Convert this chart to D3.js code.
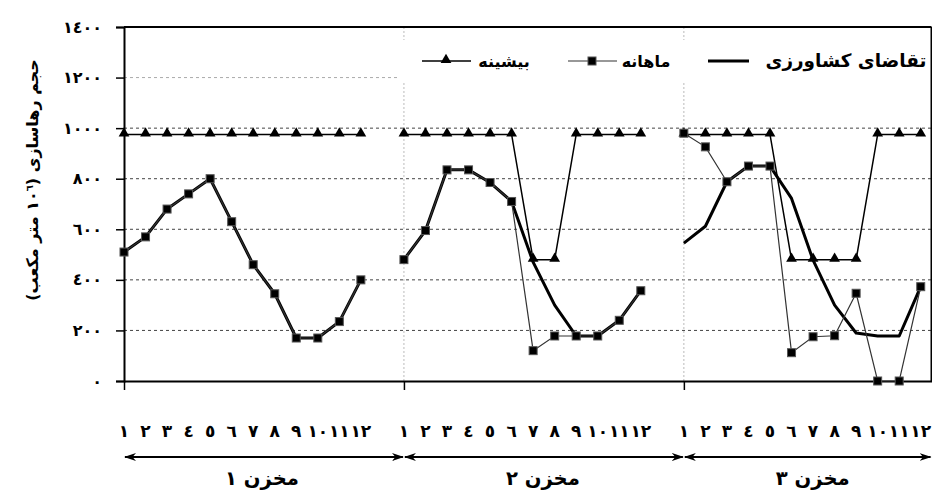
<!DOCTYPE html>
<html>
<head>
<meta charset="utf-8">
<script src="https://cdn.jsdelivr.net/npm/d3@7"></script>
<style>
  html, body { margin: 0; padding: 0; background: #fff; }
  svg { display: block; }
  text { font-family: "DejaVu Sans", sans-serif; font-weight: bold; fill: #000; }
</style>
</head>
<body>
<svg id="chart" width="932" height="490"></svg>
<script>
// ---- data ----
const reservoirs = ["مخزن ١", "مخزن ٢", "مخزن ٣"];
const monthLabels = ["١","٢","٣","٤","٥","٦","٧","٨","٩","١٠","١١","١٢"];
const yTicks = [0, 200, 400, 600, 800, 1000, 1200, 1400];
const yTickLabels = ["٠","٢٠٠","٤٠٠","٦٠٠","٨٠٠","١٠٠٠","١٢٠٠","١٤٠٠"];
const seriesNames = ["تقاضای کشاورزی", "ماهانه", "بیشینه"];

const demand1 = [510, 570, 680, 740, 800, 630, 460, 345, 170, 170, 235, 400];
const demand2 = [480, 595, 835, 835, 785, 710, 470, 300, 178, 178, 240, 357];
const demand3 = [545, 612, 788, 850, 850, 722, 478, 300, 190, 178, 178, 373];

const monthly1 = [510, 570, 680, 740, 800, 630, 460, 345, 170, 170, 235, 400];
const monthly2 = [480, 595, 835, 835, 785, 710, 120, 178, 178, 178, 240, 357];
const monthly3 = [980, 926, 788, 850, 850, 112, 175, 179, 347, 0, 0, 373];

const max1 = [975, 975, 975, 975, 975, 975, 975, 975, 975, 975, 975, 975];
const max2 = [975, 975, 975, 975, 975, 975, 480, 480, 975, 975, 975, 975];
const max3 = [975, 975, 975, 975, 975, 480, 480, 480, 480, 975, 975, 975];

const demand = [demand1, demand2, demand3];
const monthly = [monthly1, monthly2, monthly3];
const maxS = [max1, max2, max3];

// ---- layout ----
const svg = d3.select("#chart");
const pL = 124, pR = 931.5, pT = 27, pB = 381;
const slotsPerPanel = 13;

const x = d3.scaleLinear().domain([0, 37.5]).range([pL, pR]);
const y = d3.scaleLinear().domain([0, 1400]).range([pB, pT]);
const idx = (r, m) => r * slotsPerPanel + m;

// fit a text element's width to a target by adjusting font-size
function fitText(sel, target, base, maxSize) {
  sel.style("font-size", base + "px");
  const w = sel.node().getComputedTextLength();
  if (w > 0) {
    let s = base * target / w;
    s = Math.max(base * 0.8, Math.min(maxSize, s));
    sel.style("font-size", s + "px");
  }
}

// horizontal gridlines
svg.append("g").selectAll("line")
  .data(yTicks.filter(v => v > 0 && v < 1400))
  .join("line")
  .attr("x1", pL).attr("x2", pR)
  .attr("y1", d => y(d)).attr("y2", d => y(d))
  .attr("stroke", d => d === 1200 ? "#aaa" : "#444")
  .attr("stroke-width", 1)
  .attr("stroke-dasharray", "3,3");

// vertical panel gridlines
svg.append("g").selectAll("line")
  .data([1, 2])
  .join("line")
  .attr("x1", d => x(d * slotsPerPanel)).attr("x2", d => x(d * slotsPerPanel))
  .attr("y1", pT).attr("y2", pB)
  .attr("stroke", "#bbb")
  .attr("stroke-width", 1)
  .attr("stroke-dasharray", "2,2");

// legend background box (covers gridlines)
svg.append("rect")
  .attr("x", 400).attr("y", 40).attr("width", 540).attr("height", 43)
  .attr("fill", "#fff");

// axes frame
svg.append("line").attr("x1", pL).attr("x2", pR).attr("y1", pT).attr("y2", pT)
  .attr("stroke", "#000").attr("stroke-width", 2);
svg.append("line").attr("x1", pR).attr("x2", pR).attr("y1", pT).attr("y2", pB)
  .attr("stroke", "#000").attr("stroke-width", 2);

// y axis
const yAxis = d3.axisLeft(y).tickValues(yTicks)
  .tickFormat((d, i) => yTickLabels[i]).tickSize(8).tickPadding(14);
const gy = svg.append("g").attr("transform", `translate(${pL},0)`).call(yAxis);
gy.select(".domain").attr("stroke-width", 2);
gy.selectAll(".tick line").attr("stroke-width", 1.5);
gy.selectAll(".tick text")
  .style("font-size", "16px").style("font-family", "DejaVu Sans").style("font-weight", "bold")
  .style("letter-spacing", "2.5px").attr("fill", "#000");

// x axis (ticks at panel boundaries)
const xAxis = d3.axisBottom(x).tickValues([0, 13, 26]).tickFormat("").tickSize(9).tickSizeOuter(0);
const gx = svg.append("g").attr("transform", `translate(0,${pB})`).call(xAxis);
gx.select(".domain").attr("stroke-width", 2);
gx.selectAll(".tick line").attr("stroke-width", 1.5);

// month labels
const monthPos = [];
for (let r = 0; r < 3; r++) for (let m = 0; m < 12; m++) monthPos.push({ r, m });
svg.append("g").selectAll("text")
  .data(monthPos)
  .join("text")
  .attr("x", d => x(idx(d.r, d.m)))
  .attr("y", 431)
  .attr("dy", "0.35em")
  .attr("text-anchor", "middle")
  .style("font-size", "17px")
  .text(d => monthLabels[d.m]);

// arrows
const defs = svg.append("defs");
defs.append("marker").attr("id", "ah").attr("viewBox", "0 0 12 10")
  .attr("refX", 11).attr("refY", 5).attr("markerWidth", 12).attr("markerHeight", 10)
  .attr("markerUnits", "userSpaceOnUse").attr("orient", "auto-start-reverse")
  .append("path").attr("d", "M0,1 L12,5 L0,9 L3.5,5 Z").attr("fill", "#000");
const edges = [[0, 13], [13, 26], [26, 37.5]];
svg.append("g").selectAll("line")
  .data(edges)
  .join("line")
  .attr("x1", d => x(d[0]) + 1).attr("x2", d => x(d[1]) - 1)
  .attr("y1", 457).attr("y2", 457)
  .attr("stroke", "#000").attr("stroke-width", 2)
  .attr("marker-start", "url(#ah)").attr("marker-end", "url(#ah)");
const resOffsets = [-2, -1, 5];
svg.append("g").selectAll("text")
  .data(edges)
  .join("text")
  .attr("x", (d, i) => (x(d[0]) + x(d[1])) / 2 + resOffsets[i])
  .attr("y", 478).attr("dy", "0.35em")
  .attr("text-anchor", "middle")
  .text((d, i) => reservoirs[i])
  .each(function () { fitText(d3.select(this), 74, 16, 20); });

// y axis title
const yt = svg.append("text")
  .attr("transform", "translate(32,180) rotate(-90)")
  .attr("text-anchor", "middle")
  .attr("dy", "0.35em")
  .style("font-size", "16px");
yt.append("tspan").text("حجم رهاسازی (١٠");
yt.append("tspan").attr("baseline-shift", "super").style("font-size", "10px").text("٦");
yt.append("tspan").text(" متر مکعب)");

// series
const plot = svg.append("g");
const line = d3.line().x(d => x(d.i)).y(d => y(d.v));
const toPts = (arr, r) => arr.map((v, m) => ({ i: idx(r, m), v }));

demand.forEach((arr, r) => {
  plot.append("path").datum(toPts(arr, r)).attr("d", line)
    .attr("fill", "none").attr("stroke", "#000").attr("stroke-width", 3)
    .attr("stroke-linejoin", "round");
});
monthly.forEach((arr, r) => {
  plot.append("path").datum(toPts(arr, r)).attr("d", line)
    .attr("fill", "none").attr("stroke", "#333").attr("stroke-width", 1.2);
});
maxS.forEach((arr, r) => {
  plot.append("path").datum(toPts(arr, r)).attr("d", line)
    .attr("fill", "none").attr("stroke", "#000").attr("stroke-width", 1.5);
});
const tri = d3.symbol().type(d3.symbolTriangle).size(50);
maxS.forEach((arr, r) => {
  plot.append("g").selectAll("path").data(toPts(arr, r)).join("path")
    .attr("transform", d => `translate(${x(d.i)},${y(d.v) - 1})`)
    .attr("d", tri).attr("fill", "#000");
});
monthly.forEach((arr, r) => {
  plot.append("g").selectAll("rect").data(toPts(arr, r)).join("rect")
    .attr("x", d => x(d.i) - 4).attr("y", d => y(d.v) - 4)
    .attr("width", 8).attr("height", 8)
    .attr("fill", "#000").attr("stroke", "#555").attr("stroke-width", 1);
});

// legend
const lg = svg.append("g");
const ly = 61;
lg.append("line").attr("x1", 708).attr("x2", 749).attr("y1", ly).attr("y2", ly)
  .attr("stroke", "#000").attr("stroke-width", 3);
lg.append("text").attr("x", 846).attr("y", ly).attr("dy", "0.35em").attr("text-anchor", "middle")
  .text(seriesNames[0]).call(s => fitText(s, 161, 17, 21));
lg.append("line").attr("x1", 568).attr("x2", 617).attr("y1", ly).attr("y2", ly)
  .attr("stroke", "#333").attr("stroke-width", 1.2);
lg.append("rect").attr("x", 588).attr("y", ly - 4).attr("width", 8).attr("height", 8)
  .attr("fill", "#000").attr("stroke", "#555");
lg.append("text").attr("x", 646).attr("y", ly).attr("dy", "0.35em").attr("text-anchor", "middle")
  .style("font-size", "16px").text(seriesNames[1]);
lg.append("line").attr("x1", 422).attr("x2", 471).attr("y1", ly).attr("y2", ly)
  .attr("stroke", "#000").attr("stroke-width", 1.5);
lg.append("path").attr("transform", `translate(446,${ly - 1})`).attr("d", tri).attr("fill", "#000");
lg.append("text").attr("x", 504).attr("y", ly).attr("dy", "0.35em").attr("text-anchor", "middle")
  .style("font-size", "16px").text(seriesNames[2]);
</script>
</body>
</html>
